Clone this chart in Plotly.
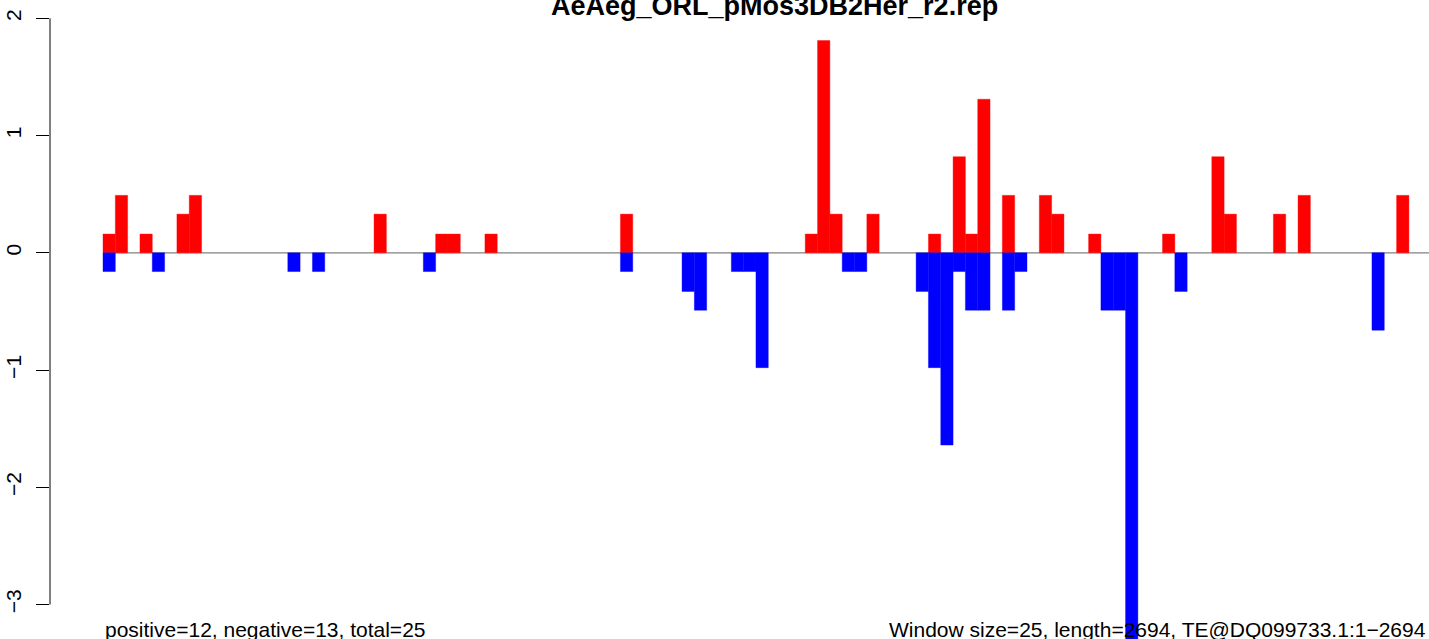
import plotly.graph_objects as go

# ---- data ----
title_text = "AeAeg_ORL_pMos3DB2Her_r2.rep"
left_note = "positive=12, negative=13, total=25"
right_note = "Window size=25, length=2694, TE@DQ099733.1:1\u22122694"

n_windows = 108
window_index = list(range(n_windows))

positive_values = [
    0.16, 0.49, 0, 0.16, 0, 0, 0.33, 0.49, 0, 0,          # 0-9
    0, 0, 0, 0, 0, 0, 0, 0, 0, 0,                        # 10-19
    0, 0, 0.33, 0, 0, 0, 0, 0.16, 0.16, 0,               # 20-29
    0, 0.16, 0, 0, 0, 0, 0, 0, 0, 0,                     # 30-39
    0, 0, 0.33, 0, 0, 0, 0, 0, 0, 0,                     # 40-49
    0, 0, 0, 0, 0, 0, 0, 0.16, 1.81, 0.33,               # 50-59
    0, 0, 0.33, 0, 0, 0, 0, 0.16, 0, 0.82,               # 60-69
    0.16, 1.31, 0, 0.49, 0, 0, 0.49, 0.33, 0, 0,         # 70-79
    0.16, 0, 0, 0, 0, 0, 0.16, 0, 0, 0,                  # 80-89
    0.82, 0.33, 0, 0, 0, 0.33, 0, 0.49, 0, 0,            # 90-99
    0, 0, 0, 0, 0, 0.49, 0, 0,                           # 100-107
]

negative_values = [
    -0.16, 0, 0, 0, -0.16, 0, 0, 0, 0, 0,                # 0-9
    0, 0, 0, 0, 0, -0.16, 0, -0.16, 0, 0,                # 10-19
    0, 0, 0, 0, 0, 0, -0.16, 0, 0, 0,                    # 20-29
    0, 0, 0, 0, 0, 0, 0, 0, 0, 0,                        # 30-39
    0, 0, -0.16, 0, 0, 0, 0, -0.33, -0.49, 0,            # 40-49
    0, -0.16, -0.16, -0.98, 0, 0, 0, 0, 0, 0,            # 50-59
    -0.16, -0.16, 0, 0, 0, 0, -0.33, -0.98, -1.64, -0.16,  # 60-69
    -0.49, -0.49, 0, -0.49, -0.16, 0, 0, 0, 0, 0,        # 70-79
    0, -0.49, -0.49, -3.3, 0, 0, 0, -0.33, 0, 0,         # 80-89
    0, 0, 0, 0, 0, 0, 0, 0, 0, 0,                        # 90-99
    0, 0, 0, -0.66, 0, 0, 0, 0,                          # 100-107
]

y_ticks = [-3, -2, -1, 0, 1, 2]

# ---- figure ----
W, H = 1429, 639
left_px = 50
first_bar_px = 103
bar_px = 12.32
x_min = -(first_bar_px - left_px) / bar_px
x_max = x_min + (W - left_px) / bar_px

zero_px = 252.8
unit_px = 117.24
y_max = zero_px / unit_px
y_min = -(H - zero_px) / unit_px

x_centers = [i + 0.5 for i in window_index]
pos_plot = [v if v != 0 else None for v in positive_values]
neg_plot = [v if v != 0 else None for v in negative_values]

fig = go.Figure()
fig.add_trace(go.Bar(x=x_centers, y=pos_plot, width=1,
                     marker=dict(color="#ff0000", line=dict(width=0.4, color="#ff0000")),
                     showlegend=False, hoverinfo="skip"))
fig.add_trace(go.Bar(x=x_centers, y=neg_plot, width=1,
                     marker=dict(color="#0000ff", line=dict(width=0.4, color="#0000ff")),
                     showlegend=False, hoverinfo="skip"))

font_family = "Liberation Sans, Arial, Helvetica, sans-serif"

fig.update_layout(
    width=W, height=H,
    margin=dict(l=left_px, r=0, t=0, b=0, pad=0, autoexpand=False),
    paper_bgcolor="white", plot_bgcolor="white",
    barmode="overlay", bargap=0,
    font=dict(family=font_family, size=21, color="black"),
    xaxis=dict(range=[x_min, x_max], visible=False, showgrid=False, zeroline=False,
               automargin=False),
    yaxis=dict(range=[y_min, y_max], tickvals=y_ticks,
               ticktext=[("\u2212" + str(-v)) if v < 0 else str(v) for v in y_ticks],
               tickangle=-90, ticks="outside", ticklen=13, tickwidth=1, tickcolor="black",
               showline=False, showgrid=False, zeroline=False, automargin=False,
               tickfont=dict(size=21, family=font_family, color="black"),
               ticklabelstandoff=7),
    shapes=[
        dict(type="line", xref="paper", yref="y", x0=0, x1=0, y0=-3, y1=2,
             line=dict(color="black", width=1)),
        dict(type="line", xref="x", yref="y", x0=0, x1=x_max, y0=0, y1=0,
             line=dict(color="#808080", width=1.3), layer="below"),
    ],
    annotations=[
        dict(text="<b>" + title_text + "</b>", xref="paper", yref="paper",
             x=(774 - left_px) / (W - left_px), y=1, xanchor="center", yanchor="top",
             yshift=11, showarrow=False, font=dict(size=27, family=font_family, color="black")),
        dict(text=left_note, xref="x", yref="paper", x=0, y=0, xanchor="left", yanchor="bottom",
             yshift=-4, showarrow=False, font=dict(size=21, family=font_family, color="black")),
        dict(text=right_note, xref="paper", yref="paper", x=(1428 - left_px) / (W - left_px), y=0,
             xanchor="right", yanchor="bottom", yshift=-4, showarrow=False,
             font=dict(size=21, family=font_family, color="black")),
    ],
)

fig.write_html("out.html",
               config={"displayModeBar": False, "staticPlot": True},
               post_script="document.body.style.margin='0px';document.body.style.overflow='hidden';")
